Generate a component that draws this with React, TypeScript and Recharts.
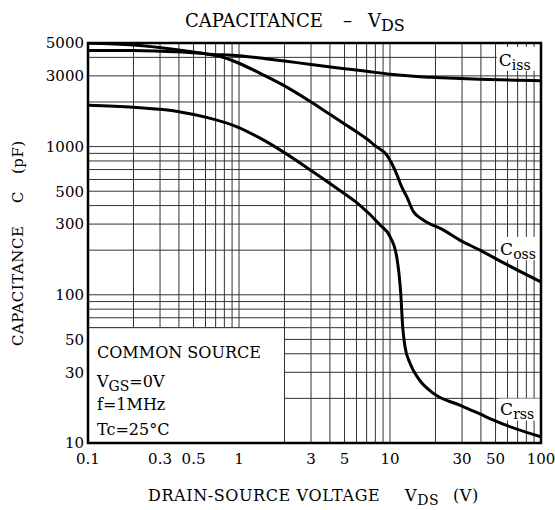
import React from 'react'
import { LineChart, Line, XAxis, YAxis, CartesianGrid, ReferenceArea } from 'recharts'

const FONT = '"DejaVu Serif", serif'

// log grid, one line per unit of each decade
const X_GRID = [
  0.1, 0.2, 0.3, 0.4, 0.5, 0.6, 0.7, 0.8, 0.9,
  1, 2, 3, 4, 5, 6, 7, 8, 9,
  10, 20, 30, 40, 50, 60, 70, 80, 90, 100,
]
const X_LABELS = [0.1, 0.3, 0.5, 1, 3, 5, 10, 30, 50, 100]

const Y_GRID = [
  10, 20, 30, 40, 50, 60, 70, 80, 90,
  100, 200, 300, 400, 500, 600, 700, 800, 900,
  1000, 2000, 3000, 4000, 5000,
]
const Y_LABELS = [10, 30, 50, 100, 300, 500, 1000, 3000, 5000]

// VDS (V) / C (pF)
const CISS_V = [0.1, 0.2, 0.3, 0.5, 0.61, 1, 1.5, 2, 3, 4.7, 7, 10, 15.8, 20, 39, 70, 100]
const CISS_C = [4450, 4450, 4400, 4300, 4220, 4100, 3920, 3780, 3580, 3380, 3220, 3080, 2965, 2930, 2845, 2800, 2785]

const COSS_V = [0.1, 0.2, 0.4, 0.61, 0.75, 1, 1.38, 1.87, 3, 4, 5, 6, 7, 8, 9.5, 11, 12, 12.9, 14.3, 16.6, 22.5, 29, 39.4, 60, 100]
const COSS_C = [4980, 4850, 4490, 4220, 4050, 3650, 3120, 2670, 2000, 1650, 1420, 1260, 1130, 1010, 878, 663, 530, 459, 364, 320, 274, 234, 200, 159, 122]

const CRSS_V = [0.1, 0.2, 0.4, 0.6, 0.97, 1.38, 1.87, 3, 5, 6.3, 8.6, 10, 11.07, 11.78, 12.13, 12.57, 13.57, 15.4, 19.4, 29, 39.4, 48, 100]
const CRSS_C = [1900, 1840, 1720, 1580, 1360, 1140, 950, 690, 480, 403, 296, 247, 181, 102, 61, 44.7, 34.5, 27.3, 21.6, 18, 15.7, 14.3, 11]

const toPoints = (v: number[], c: number[]) => v.map((x, i) => ({ v: x, c: c[i] }))

const ciss = toPoints(CISS_V, CISS_C)
const coss = toPoints(COSS_V, COSS_C)
const crss = toPoints(CRSS_V, CRSS_C)

function CurveTag({ viewBox, sub }: any) {
  if (!viewBox) return null
  const { x, y, height } = viewBox
  return (
    <text x={x + 2} y={y + height - 5} fontFamily={FONT} fontSize={17} fill="#000">
      C
      <tspan fontSize={14} dy={4}>
        {sub}
      </tspan>
    </text>
  )
}

const tickStyle = { fontSize: 15, fill: '#000', fontFamily: FONT }

export default function App() {
  return (
    <div style={{ position: 'absolute', left: 0, top: 0, width: 555, height: 510, background: '#fff' }}>
      <LineChart width={555} height={510} margin={{ top: 43, right: 14, bottom: 37, left: 28 }}>
        <CartesianGrid stroke="#333" strokeWidth={1} />
        <XAxis
          dataKey="v"
          type="number"
          scale="log"
          domain={[0.1, 100]}
          ticks={X_GRID}
          interval={0}
          allowDataOverflow
          height={30}
          axisLine={false}
          tickLine={false}
          tickSize={6}
          tickMargin={4}
          tick={tickStyle}
          tickFormatter={(v: number) => (X_LABELS.includes(v) ? String(v) : '')}
        />
        <YAxis
          dataKey="c"
          type="number"
          scale="log"
          domain={[10, 5000]}
          ticks={Y_GRID}
          interval={0}
          allowDataOverflow
          width={60}
          axisLine={false}
          tickLine={false}
          tickSize={4}
          tickMargin={0}
          tick={tickStyle}
          tickFormatter={(v: number) => (Y_LABELS.includes(v) ? String(v) : '')}
        />
        <ReferenceArea x1={0.1} x2={2} y1={10} y2={60} fill="#fff" fillOpacity={1} stroke="#333" strokeWidth={1} />
        <ReferenceArea x1={51} x2={100} y1={3250} y2={4700} fill="#fff" fillOpacity={1} stroke="none" label={<CurveTag sub="iss" />} />
        <ReferenceArea x1={52} x2={100} y1={172} y2={245} fill="#fff" fillOpacity={1} stroke="none" label={<CurveTag sub="oss" />} />
        <ReferenceArea x1={52} x2={100} y1={14.2} y2={20} fill="#fff" fillOpacity={1} stroke="none" label={<CurveTag sub="rss" />} />
        <Line data={ciss} dataKey="c" type="monotone" stroke="#000" strokeWidth={3} dot={false} isAnimationActive={false} />
        <Line data={coss} dataKey="c" type="monotone" stroke="#000" strokeWidth={3} dot={false} isAnimationActive={false} />
        <Line data={crss} dataKey="c" type="monotone" stroke="#000" strokeWidth={3} dot={false} isAnimationActive={false} />
        <ReferenceArea x1={0.1} x2={100} y1={10} y2={5000} fill="none" fillOpacity={0} stroke="#000" strokeWidth={2.5} />
      </LineChart>

      <svg width={555} height={510} style={{ position: 'absolute', left: 0, top: 0, pointerEvents: 'none' }}>
        <g fontFamily={FONT} fill="#000">
          <text y={27} fontSize={18}>
            <tspan x={185}>CAPACITANCE</tspan>
            <tspan x={343}>–</tspan>
            <tspan x={368}>V</tspan>
            <tspan fontSize={16} dy={4}>DS</tspan>
          </text>

          <g fontSize={16}>
            <text x={97} y={358}>COMMON SOURCE</text>
            <text x={97} y={387}>
              V<tspan fontSize={14} dy={4}>GS</tspan>
              <tspan dy={-4}>=0V</tspan>
            </text>
            <text x={97} y={410}>f=1MHz</text>
            <text x={97} y={435}>Tc=25°C</text>
          </g>

          <text transform="rotate(-90)" y={23} fontSize={15} letterSpacing={0.5}>
            <tspan x={-346}>CAPACITANCE</tspan>
            <tspan x={-203}>C</tspan>
            <tspan x={-174}>(pF)</tspan>
          </text>

          <text y={501} fontSize={16} letterSpacing={0.6}>
            <tspan x={148}>DRAIN-SOURCE VOLTAGE</tspan>
            <tspan x={405}>V</tspan>
            <tspan fontSize={14} dy={4}>DS</tspan>
            <tspan x={453} dy={-4}>(V)</tspan>
          </text>
        </g>
      </svg>
    </div>
  )
}
